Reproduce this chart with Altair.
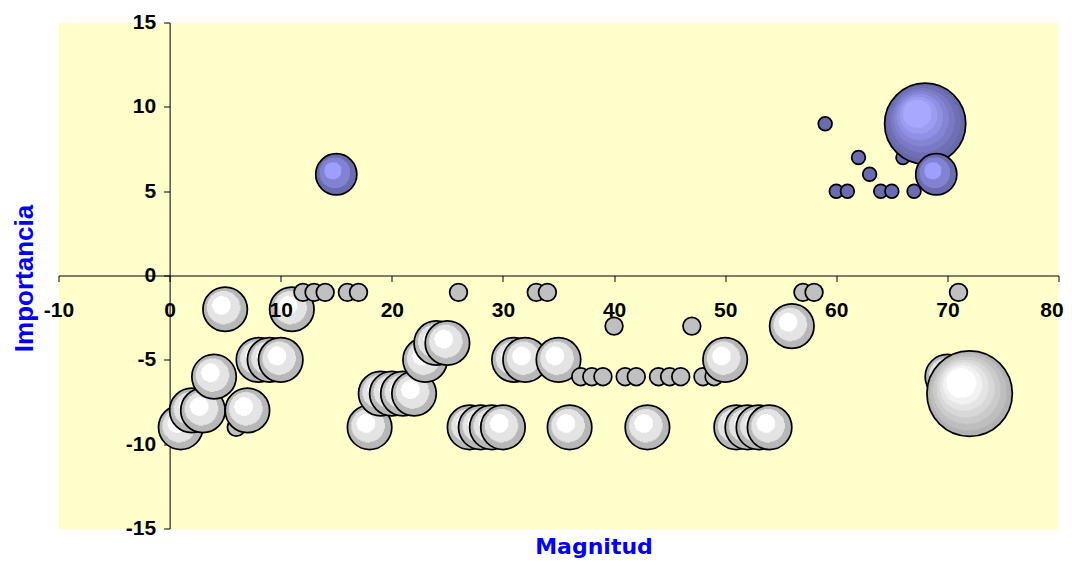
import altair as alt
import pandas as pd

# ---- data ----
gray_x = [1, 2, 3, 4, 5, 6, 7, 8, 9, 10, 11, 12, 13, 14, 16, 17, 18, 19, 20, 21,
          22, 23, 24, 25, 26, 27, 28, 29, 30, 31, 32, 33, 34, 35, 36, 37, 38, 39,
          40, 41, 42, 43, 44, 45, 46, 47, 48, 49, 50, 51, 52, 53, 54, 56, 57, 58,
          70, 71, 72]
gray_y = [-9, -8, -8, -6, -2, -9, -8, -5, -5, -5, -2, -1, -1, -1, -1, -1, -9, -7, -7, -7,
          -7, -5, -4, -4, -1, -9, -9, -9, -9, -5, -5, -1, -1, -5, -9, -6, -6, -6,
          -3, -6, -6, -9, -6, -6, -6, -3, -6, -6, -5, -9, -9, -9, -9, -3, -1, -1,
          -6, -1, -7]
gray_size = [6.3, 6.3, 6.3, 6.3, 6.3, 1, 6.3, 6.3, 6.3, 6.3, 6.3, 1, 1, 1, 1, 1, 6.3, 6.3, 6.3, 6.3,
             6.3, 6.3, 6.3, 6.3, 1, 6.3, 6.3, 6.3, 6.3, 6.3, 6.3, 1, 1, 6.3, 6.3, 1, 1, 1,
             1, 1, 1, 6.3, 1, 1, 1, 1, 1, 1, 6.3, 6.3, 6.3, 6.3, 6.3, 6.3, 1, 1,
             6.3, 1, 23.3]

blue_x = [15, 59, 60, 61, 62, 63, 64, 65, 66, 67, 68, 69]
blue_y = [6, 9, 5, 5, 7, 6, 5, 5, 7, 5, 9, 6]
blue_size = [5.4, 0.6, 0.6, 0.6, 0.6, 0.6, 0.6, 0.6, 0.6, 0.6, 21, 5.4]

x_ticks = [-10, 0, 10, 20, 30, 40, 50, 60, 70, 80]
y_ticks = [-15, -10, -5, 0, 5, 10, 15]

df = pd.concat(
    [
        pd.DataFrame({"x": gray_x, "y": gray_y, "tam": gray_size, "serie": "gris"}),
        pd.DataFrame({"x": blue_x, "y": blue_y, "tam": blue_size, "serie": "azul"}),
    ],
    ignore_index=True,
).sort_values("x", kind="stable").reset_index(drop=True)

W, H = 1000, 506


def radial(colors, bounds, fx, fy):
    stops = []
    for i, c in enumerate(colors):
        stops.append({"offset": bounds[i], "color": c})
        stops.append({"offset": bounds[i + 1], "color": c})
    return {"gradient": "radial", "stops": stops,
            "x1": fx, "y1": fy, "r1": 0, "x2": 0.5, "y2": 0.5, "r2": 0.5}


gray_med = radial(["#FFFFFF", "#E4E4E4", "#B8B8B8"], [0, 0.42, 0.75, 1], 0.36, 0.35)
gray_big = radial(["#FFFFFF", "#F2F2F2", "#E5E5E5", "#D8D8D8", "#CBCBCB", "#BEBEBE", "#B2B2B2"],
                  [0, 0.35, 0.46, 0.57, 0.68, 0.79, 0.9, 1], 0.35, 0.31)
blue_med = radial(["#9E9EFF", "#8282D2", "#6B6BAF"], [0, 0.42, 0.75, 1], 0.36, 0.35)
blue_big = radial(["#A8A8FF", "#9C9CF2", "#9090E4", "#8484D4", "#7979C4", "#6F6FB6", "#6868AA"],
                  [0, 0.35, 0.46, 0.57, 0.68, 0.79, 0.9, 1], 0.35, 0.31)

is_gray = alt.datum.serie == "gris"
fill_def = (
    alt.when(is_gray & (alt.datum.tam < 1.5)).then(alt.value("#C0C0C0"))
    .when(is_gray & (alt.datum.tam < 10)).then(alt.value(gray_med))
    .when(is_gray).then(alt.value(gray_big))
    .when(alt.datum.tam < 1.5).then(alt.value("#6B6BAF"))
    .when(alt.datum.tam < 10).then(alt.value(blue_med))
    .otherwise(alt.value(blue_big))
)

xscale = alt.Scale(domain=[-10, 80], nice=False, zero=False)
yscale = alt.Scale(domain=[-15, 15], nice=False, zero=False)

# layer 1: bubbles with axis lines + ticks (behind the bubbles)
bubbles = alt.Chart(df).mark_circle(opacity=1, stroke="black", strokeWidth=1.75).encode(
    x=alt.X("x:Q", scale=xscale,
            axis=alt.Axis(orient="bottom", values=x_ticks, offset=-H / 2, labels=False, grid=False,
                          domainColor="black", domainWidth=1, tickColor="black", tickWidth=1,
                          tickSize=6, title="", zindex=0)),
    y=alt.Y("y:Q", scale=yscale,
            axis=alt.Axis(orient="left", values=y_ticks, offset=-W / 9, labels=False, grid=False,
                          domainColor="black", domainWidth=1, tickColor="black", tickWidth=1,
                          tickSize=6, title="", zindex=0)),
    size=alt.Size("tam:Q", scale=alt.Scale(domain=[0, 25], range=[0, 7825]), legend=None),
    fill=fill_def,
)

# layer 2: invisible points carrying the labels and titles (drawn above the bubbles)
labels = alt.Chart(df).mark_point(opacity=0).encode(
    x=alt.X("x:Q", scale=xscale,
            axis=alt.Axis(orient="bottom", values=x_ticks, offset=-H / 2, domain=False, grid=False,
                          ticks=True, tickOpacity=0, tickSize=6,
                          labelFont="Liberation Sans", labelFontSize=21, labelFontWeight="bold",
                          labelColor="black", labelPadding=18, labelFlush=False, labelOverlap=False,
                          labelOffset={"condition": {"test": "datum.value == 80", "value": -7},
                                       "value": 0},
                          labelExpr="'' + datum.value",
                          title="Magnitud", titleFont="DejaVu Sans", titleFontSize=22,
                          titleFontWeight="bold", titleColor="#0000FF", titleX=535, titleY=277.5,
                          titleAlign="center", titleBaseline="alphabetic", zindex=1)),
    y=alt.Y("y:Q", scale=yscale,
            axis=alt.Axis(orient="left", values=y_ticks, offset=-W / 9, domain=False, grid=False,
                          ticks=True, tickOpacity=0, tickSize=6,
                          labelFont="Liberation Sans", labelFontSize=21, labelFontWeight="bold",
                          labelColor="black", labelPadding=8, labelFlush=False, labelOverlap=False,
                          labelExpr="'' + datum.value",
                          title="Importancia", titleFont="Liberation Sans", titleFontSize=26,
                          titleFontWeight="bold", titleColor="#0000FF", titleX=-137.5, titleY=255.5,
                          titleAngle=270, titleAlign="center", titleBaseline="alphabetic", zindex=1)),
)

chart = (
    alt.layer(bubbles, labels)
    .resolve_axis(x="independent", y="independent")
    .properties(width=W, height=H, autosize=alt.AutoSizeParams(type="none"),
                padding={"left": 50.5, "top": 14.5, "right": 5, "bottom": 29.5},
                background="white")
    .configure_view(fill="#FFFFCC", stroke="transparent")
)

chart.save("out.html", embed_options={"renderer": "svg", "actions": False})
